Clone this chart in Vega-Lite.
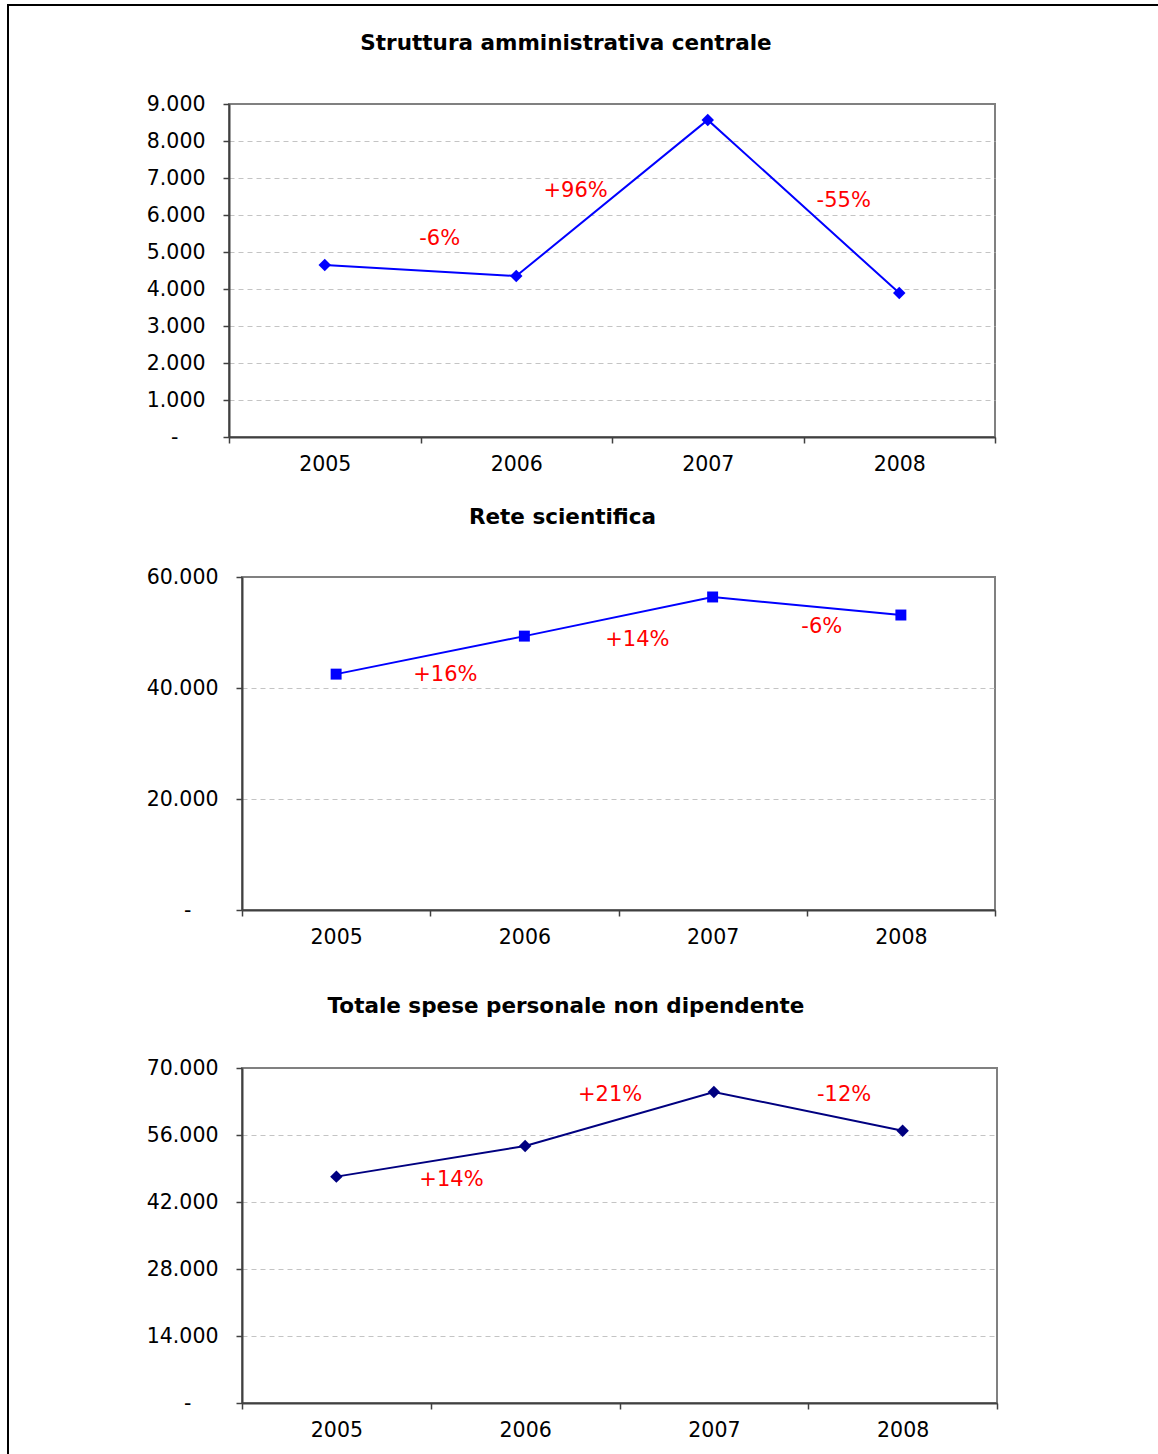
{
  "$schema": "https://vega.github.io/schema/vega-lite/v6.json",
  "padding": {"left": 7, "top": 4, "right": 0, "bottom": 0},
  "background": "white",
  "config": {
    "font": "DejaVu Sans",
    "view": {"stroke": "#808080", "strokeWidth": 2},
    "axis": {
      "labelFont": "DejaVu Sans", "labelFontSize": 20.5, "labelColor": "#000000", "labelFontWeight": "normal",
      "domainColor": "#404040", "domainWidth": 2, "tickColor": "#404040", "tickWidth": 1.5, "tickSize": 6,
      "gridColor": "#c4c4c4", "gridDash": [5, 4], "gridWidth": 1, "title": null
    },
    "title": {"font": "DejaVu Sans", "fontSize": 21.5, "fontWeight": "bold", "color": "#000000", "anchor": "middle", "frame": "group", "baseline": "alphabetic"}
  },
  "vconcat": [
    {"width": 1160, "height": 2, "view": {"fill": "#000000", "stroke": null}, "data": {"values": []}, "mark": "point", "encoding": {}},
    {
      "hconcat": [
        {"width": 2, "height": 1460, "view": {"fill": "#000000", "stroke": null}, "data": {"values": []}, "mark": "point", "encoding": {}},
        {
          "concat": [
            {"width": 1, "height": 25, "view": {"fill": null, "stroke": null}, "data": {"values": []}, "mark": "point", "encoding": {}},
            {
              "hconcat": [
                {"width": 1, "height": 1, "view": {"fill": null, "stroke": null}, "data": {"values": []}, "mark": "point", "encoding": {}},
                {
                  "width": 766, "height": 333,
                  "title": {"text": "Struttura amministrativa centrale", "dx": -46, "offset": 40},
                  "layer": [
                    {
                      "data": {"values": [{"year": 2005, "value": 4650}, {"year": 2006, "value": 4350}, {"year": 2007, "value": 8570}, {"year": 2008, "value": 3890}]},
                      "mark": {"type": "line", "color": "#0000FF", "strokeWidth": 2, "point": {"shape": "diamond", "size": 155, "filled": true, "color": "#0000FF", "opacity": 1}},
                      "encoding": {
                        "x": {"field": "year", "type": "quantitative", "scale": {"domain": [2004.5, 2008.5], "nice": false, "zero": false},
                          "axis": {"values": [2004.5, 2005.5, 2006.5, 2007.5, 2008.5], "tickCount": 20, "labelExpr": "datum.value < 2008 ? toString(datum.value + 0.5) : ''", "labelOffset": 95.75, "labelFlush": false, "labelOverlap": false, "labelPadding": 11.5, "grid": false, "title": null}},
                        "y": {"field": "value", "type": "quantitative", "scale": {"domain": [0, 9000], "nice": false},
                          "axis": {"values": [0, 1000, 2000, 3000, 4000, 5000, 6000, 7000, 8000, 9000], "tickCount": 30, "labelOverlap": false, "labelExpr": "datum.value == 0 ? '-' : replace(format(datum.value, ','), ',', '.')", "labelPadding": {"condition": {"test": "datum.value == 0", "value": 45}, "value": 18}, "grid": true, "gridOpacity": {"condition": {"test": "datum.value == 0 || datum.value == 9000", "value": 0}, "value": 1}, "title": null}}
                      }
                    },
                    {
                      "data": {"values": [{"year": 2005.6, "value": 5350, "label": "-6%"}, {"year": 2006.31, "value": 6650, "label": "+96%"}, {"year": 2007.71, "value": 6380, "label": "-55%"}]},
                      "mark": {"type": "text", "color": "#FF0000", "fontSize": 21, "font": "DejaVu Sans", "align": "center", "baseline": "middle"},
                      "encoding": {
                        "x": {"field": "year", "type": "quantitative"},
                        "y": {"field": "value", "type": "quantitative"},
                        "text": {"field": "label", "type": "nominal"}
                      }
                    }
                  ]
                }
              ],
              "spacing": 0
            },
            {"width": 1, "height": 28.5, "view": {"fill": null, "stroke": null}, "data": {"values": []}, "mark": "point", "encoding": {}},
            {
              "hconcat": [
                {"width": 1, "height": 1, "view": {"fill": null, "stroke": null}, "data": {"values": []}, "mark": "point", "encoding": {}},
                {
                  "width": 753, "height": 333,
                  "title": {"text": "Rete scientifica", "dx": -56, "offset": 39},
                  "layer": [
                    {
                      "data": {"values": [{"year": 2005, "value": 42500}, {"year": 2006, "value": 49350}, {"year": 2007, "value": 56400}, {"year": 2008, "value": 53150}]},
                      "mark": {"type": "line", "color": "#0000FF", "strokeWidth": 2, "point": {"shape": "square", "size": 120, "filled": true, "color": "#0000FF", "opacity": 1}},
                      "encoding": {
                        "x": {"field": "year", "type": "quantitative", "scale": {"domain": [2004.5, 2008.5], "nice": false, "zero": false},
                          "axis": {"values": [2004.5, 2005.5, 2006.5, 2007.5, 2008.5], "tickCount": 20, "labelExpr": "datum.value < 2008 ? toString(datum.value + 0.5) : ''", "labelOffset": 94.125, "labelFlush": false, "labelOverlap": false, "labelPadding": 11.5, "grid": false, "title": null}},
                        "y": {"field": "value", "type": "quantitative", "scale": {"domain": [0, 60000], "nice": false},
                          "axis": {"values": [0, 20000, 40000, 60000], "tickCount": 30, "labelOverlap": false, "labelExpr": "datum.value == 0 ? '-' : replace(format(datum.value, ','), ',', '.')", "labelPadding": {"condition": {"test": "datum.value == 0", "value": 45}, "value": 18}, "grid": true, "gridOpacity": {"condition": {"test": "datum.value == 0 || datum.value == 60000", "value": 0}, "value": 1}, "title": null}}
                      }
                    },
                    {
                      "data": {"values": [{"year": 2005.58, "value": 42340, "label": "+16%"}, {"year": 2006.6, "value": 48650, "label": "+14%"}, {"year": 2007.58, "value": 50990, "label": "-6%"}]},
                      "mark": {"type": "text", "color": "#FF0000", "fontSize": 21, "font": "DejaVu Sans", "align": "center", "baseline": "middle"},
                      "encoding": {
                        "x": {"field": "year", "type": "quantitative"},
                        "y": {"field": "value", "type": "quantitative"},
                        "text": {"field": "label", "type": "nominal"}
                      }
                    }
                  ]
                }
              ],
              "spacing": 0
            },
            {"width": 1, "height": 46, "view": {"fill": null, "stroke": null}, "data": {"values": []}, "mark": "point", "encoding": {}},
            {
              "hconcat": [
                {"width": 1, "height": 1, "view": {"fill": null, "stroke": null}, "data": {"values": []}, "mark": "point", "encoding": {}},
                {
                  "width": 755, "height": 335,
                  "title": {"text": "Totale spese personale non dipendente", "dx": -53.5, "offset": 40.5},
                  "layer": [
                    {
                      "data": {"values": [{"year": 2005, "value": 47300}, {"year": 2006, "value": 53700}, {"year": 2007, "value": 65000}, {"year": 2008, "value": 56900}]},
                      "mark": {"type": "line", "color": "#000080", "strokeWidth": 2, "point": {"shape": "diamond", "size": 155, "filled": true, "color": "#000080", "opacity": 1}},
                      "encoding": {
                        "x": {"field": "year", "type": "quantitative", "scale": {"domain": [2004.5, 2008.5], "nice": false, "zero": false},
                          "axis": {"values": [2004.5, 2005.5, 2006.5, 2007.5, 2008.5], "tickCount": 20, "labelExpr": "datum.value < 2008 ? toString(datum.value + 0.5) : ''", "labelOffset": 94.375, "labelFlush": false, "labelOverlap": false, "labelPadding": 11.5, "grid": false, "title": null}},
                        "y": {"field": "value", "type": "quantitative", "scale": {"domain": [0, 70000], "nice": false},
                          "axis": {"values": [0, 14000, 28000, 42000, 56000, 70000], "tickCount": 30, "labelOverlap": false, "labelExpr": "datum.value == 0 ? '-' : replace(format(datum.value, ','), ',', '.')", "labelPadding": {"condition": {"test": "datum.value == 0", "value": 45}, "value": 18}, "grid": true, "gridOpacity": {"condition": {"test": "datum.value == 0 || datum.value == 70000", "value": 0}, "value": 1}, "title": null}}
                      }
                    },
                    {
                      "data": {"values": [{"year": 2005.61, "value": 46600, "label": "+14%"}, {"year": 2006.45, "value": 64360, "label": "+21%"}, {"year": 2007.69, "value": 64360, "label": "-12%"}]},
                      "mark": {"type": "text", "color": "#FF0000", "fontSize": 21, "font": "DejaVu Sans", "align": "center", "baseline": "middle"},
                      "encoding": {
                        "x": {"field": "year", "type": "quantitative"},
                        "y": {"field": "value", "type": "quantitative"},
                        "text": {"field": "label", "type": "nominal"}
                      }
                    }
                  ]
                }
              ],
              "spacing": 0
            }
          ],
          "columns": 1,
          "align": "none",
          "spacing": 0
        }
      ],
      "spacing": 135
    }
  ],
  "spacing": 0
}
